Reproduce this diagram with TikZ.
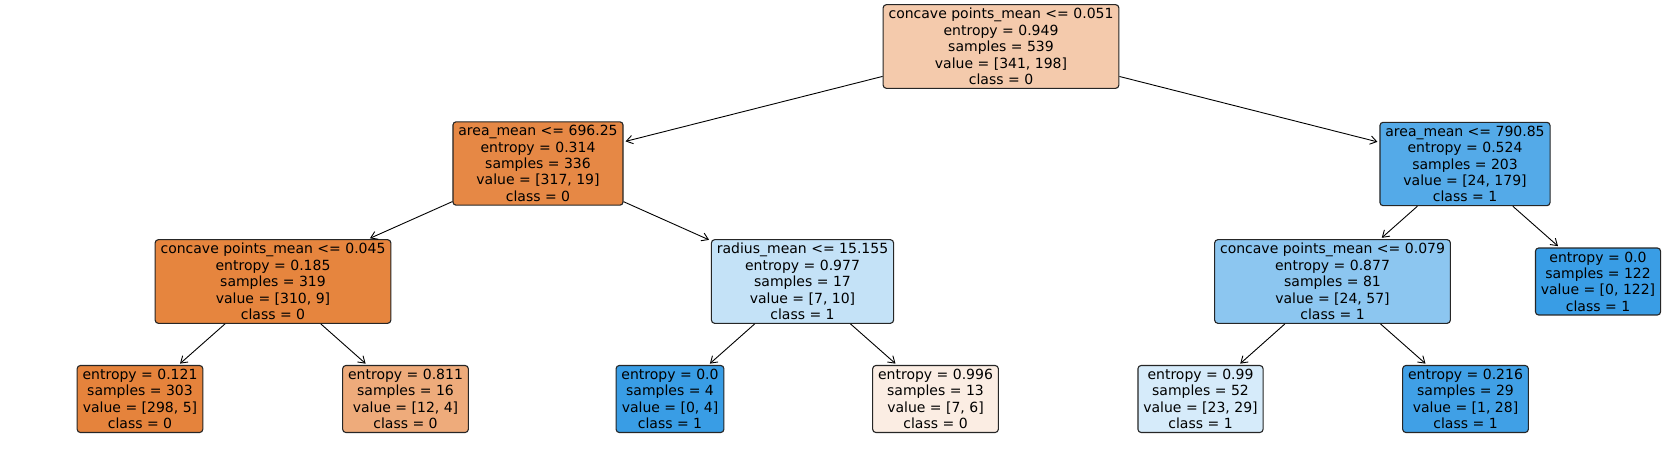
\documentclass[tikz,border=0pt]{standalone}
\usepackage{fontspec}
\setmainfont{DejaVu Sans}
\usetikzlibrary{arrows.meta}
\definecolor{rootfill}{HTML}{F4CAAC}
\definecolor{areaAfill}{HTML}{E68845}
\definecolor{areaBfill}{HTML}{54AAE8}
\definecolor{concAfill}{HTML}{E6853E}
\definecolor{radfill}{HTML}{C4E2F7}
\definecolor{concBfill}{HTML}{8CC6F0}
\definecolor{pureblue}{HTML}{399DE5}
\definecolor{leafAfill}{HTML}{E5833C}
\definecolor{leafBfill}{HTML}{EEAB7B}
\definecolor{leafDfill}{HTML}{FBEDE3}
\definecolor{leafEfill}{HTML}{D6EBFA}
\definecolor{leafFfill}{HTML}{40A0E6}
\tikzset{
    treenode/.style={draw=black!85, rectangle, rounded corners=1.6pt, line width=0.55pt, align=center, inner xsep=2.7pt, inner ysep=1.8pt, font=\fontsize{7}{8.2}\selectfont},
    split/.style={-{Straight Barb[length=3.2pt, width=4.2pt]}, shorten >=1pt, line width=0.45pt, draw=black}
}
\begin{document}
\begin{tikzpicture}[x=0.5pt, y=-0.5pt]
        \useasboundingbox (0,0) rectangle (1663,466);

        % -----------------------------------------------------------------
        % ROOT
        % -----------------------------------------------------------------
        \node[treenode, fill=rootfill] (root) at (1001,46.5) {concave points\_mean <= 0.051\\entropy = 0.949\\samples = 539\\value = [341, 198]\\class = 0};

        % -----------------------------------------------------------------
        % LEVEL 1
        % -----------------------------------------------------------------
        \node[treenode, fill=areaAfill] (areaA) at (538,163.5) {area\_mean <= 696.25\\entropy = 0.314\\samples = 336\\value = [317, 19]\\class = 0};
        \node[treenode, fill=areaBfill] (areaB) at (1465,164) {area\_mean <= 790.85\\entropy = 0.524\\samples = 203\\value = [24, 179]\\class = 1};

        % -----------------------------------------------------------------
        % LEVEL 2
        % -----------------------------------------------------------------
        \node[treenode, fill=concAfill] (concA) at (273,281.5) {concave points\_mean <= 0.045\\entropy = 0.185\\samples = 319\\value = [310, 9]\\class = 0};
        \node[treenode, fill=radfill] (rad) at (802.5,281.5) {radius\_mean <= 15.155\\entropy = 0.977\\samples = 17\\value = [7, 10]\\class = 1};
        \node[treenode, fill=concBfill] (concB) at (1332.5,281.5) {concave points\_mean <= 0.079\\entropy = 0.877\\samples = 81\\value = [24, 57]\\class = 1};
        \node[treenode, fill=pureblue] (leafG) at (1598,281.5) {entropy = 0.0\\samples = 122\\value = [0, 122]\\class = 1};

        % -----------------------------------------------------------------
        % LEVEL 3
        % -----------------------------------------------------------------
        \node[treenode, fill=leafAfill] (leafA) at (140,399) {entropy = 0.121\\samples = 303\\value = [298, 5]\\class = 0};
        \node[treenode, fill=leafBfill] (leafB) at (405.5,399) {entropy = 0.811\\samples = 16\\value = [12, 4]\\class = 0};
        \node[treenode, fill=pureblue] (leafC) at (670,399) {entropy = 0.0\\samples = 4\\value = [0, 4]\\class = 1};
        \node[treenode, fill=leafDfill] (leafD) at (935.5,399) {entropy = 0.996\\samples = 13\\value = [7, 6]\\class = 0};
        \node[treenode, fill=leafEfill] (leafE) at (1200.5,399) {entropy = 0.99\\samples = 52\\value = [23, 29]\\class = 1};
        \node[treenode, fill=leafFfill] (leafF) at (1465.5,399) {entropy = 0.216\\samples = 29\\value = [1, 28]\\class = 1};

        % -----------------------------------------------------------------
        % SPLITS
        % -----------------------------------------------------------------
        \draw[split] (root) -- (areaA);
        \draw[split] (root) -- (areaB);
        \draw[split] (areaA) -- (concA);
        \draw[split] (areaA) -- (rad);
        \draw[split] (areaB) -- (concB);
        \draw[split] (areaB) -- (leafG);
        \draw[split] (concA) -- (leafA);
        \draw[split] (concA) -- (leafB);
        \draw[split] (rad) -- (leafC);
        \draw[split] (rad) -- (leafD);
        \draw[split] (concB) -- (leafE);
        \draw[split] (concB) -- (leafF);

    \end{tikzpicture}
\end{document}
